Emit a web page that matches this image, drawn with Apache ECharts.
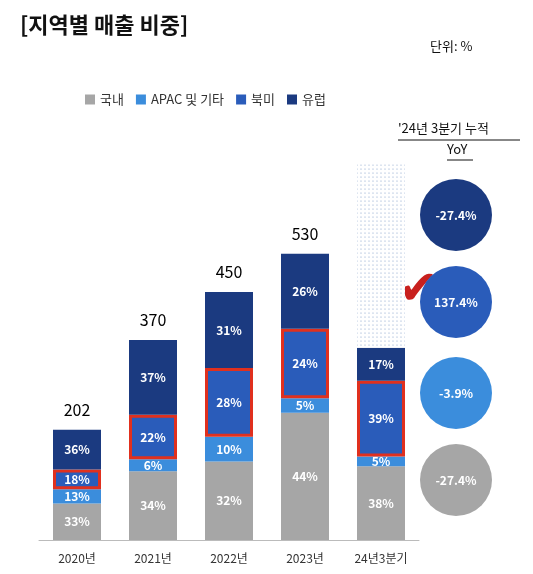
<!DOCTYPE html>
<html><head><meta charset="utf-8">
<script src="https://cdn.jsdelivr.net/npm/echarts@6/dist/echarts.min.js"></script>
<style>body{margin:0}#c{width:533px;height:574px}</style></head>
<body><div id="c"></div>
<script>
const categories = ['2020년','2021년','2022년','2023년','24년3분기'];
const totals = [202,370,450,530,356];
const totalLabels = ['202','370','450','530',''];
const domestic = [33,34,32,44,38];
const apac = [13,6,10,5,5];
const northAmerica = [18,22,28,24,39];
const europe = [36,37,31,26,17];
const forecastTop = 692;
const yoyLabels = ['-27.4%','137.4%','-3.9%','-27.4%'];
const yoyColors = ['#1b3a80','#2a5cba','#3b8ddc','#a6a6a6'];

const names = ['국내','APAC 및 기타','북미','유럽'];
const colors = ['#a6a6a6','#3b8ddc','#2a5cba','#1b3a80'];
const pcts = [domestic, apac, northAmerica, europe];
const font = '"Noto Sans CJK KR", sans-serif';

const series = pcts.map((p,i)=>({
  name:names[i], type:'bar', stack:'s', barWidth:48,
  data:p.map((v,j)=>({value:totals[j]*v/100, pct:v})),
  itemStyle: i===2 ? {color:colors[i], borderColor:'#e0301e', borderWidth:3} : {color:colors[i]},
  label:{show:true, color:'#fff', fontWeight:'bold', fontSize:12, fontFamily:font,
    formatter:o=>o.data.pct+'%'}
}));
series.push({name:'forecast', type:'bar', stack:'s', barWidth:48,
  data:totals.map((t,j)=>j===4?forecastTop-t:0),
  itemStyle:{color:'#ffffff', decal:{symbol:'circle', symbolSize:0.6, color:'#7f9cc8', dashArrayX:[[2,2]], dashArrayY:[2,2], symbolKeepAspect:true}},
  label:{show:false}});
series.push({name:'total', type:'bar', stack:'s', barWidth:48,
  data:totals.map((t,j)=>j===4?0:0.001),
  label:{show:true, position:'top', distance:12, color:'#000', fontSize:16, fontFamily:font,
    formatter:o=>totalLabels[o.dataIndex]}});

const graphic = [
  {type:'text', left:20, top:14, style:{text:'[지역별 매출 비중]', font:'bold 22px '+font, fill:'#111'}},
  {type:'text', left:430, top:40, style:{text:'단위: %', font:'13px '+font, fill:'#111'}},
  {type:'text', left:398, top:122, style:{text:"'24년 3분기 누적", font:'13px '+font, fill:'#111'}},
  {type:'line', shape:{x1:398,y1:140,x2:520,y2:140}, style:{stroke:'#111',lineWidth:1}},
  {type:'text', left:447, top:143, style:{text:'YoY', font:'13px '+font, fill:'#111'}},
  {type:'line', shape:{x1:447,y1:160,x2:473,y2:160}, style:{stroke:'#111',lineWidth:1}},
  {type:'text', left:398, top:268, style:{text:'✔', font:'bold 48px "DejaVu Sans"', fill:'#c8201e'}}
];
const cy=[215,302,393,480];
yoyLabels.forEach((t,i)=>{
  graphic.push({type:'circle', shape:{cx:456, cy:cy[i], r:36}, style:{fill:yoyColors[i]}});
  graphic.push({type:'text', x:456, y:cy[i], style:{text:t, font:'bold 12px '+font, fill:'#fff', align:'center', verticalAlign:'middle'}});
});

const chart = echarts.init(document.getElementById('c'));
chart.setOption({
  animation:false,
  legend:{data:names, top:88, left:80, itemWidth:10, itemHeight:10, itemGap:12,
    icon:'rect', itemStyle:{borderWidth:0}, textStyle:{fontSize:13, fontFamily:font, color:'#333'}},
  grid:{left:39, right:114, top:158, bottom:34},
  xAxis:{type:'category', data:categories, axisTick:{show:false},
    axisLine:{lineStyle:{color:'#bbb'}}, axisLabel:{color:'#333', fontSize:12, fontFamily:font, margin:12}},
  yAxis:{type:'value', min:0, max:700, show:false, splitLine:{show:false}},
  series, graphic
});
</script></body></html>
